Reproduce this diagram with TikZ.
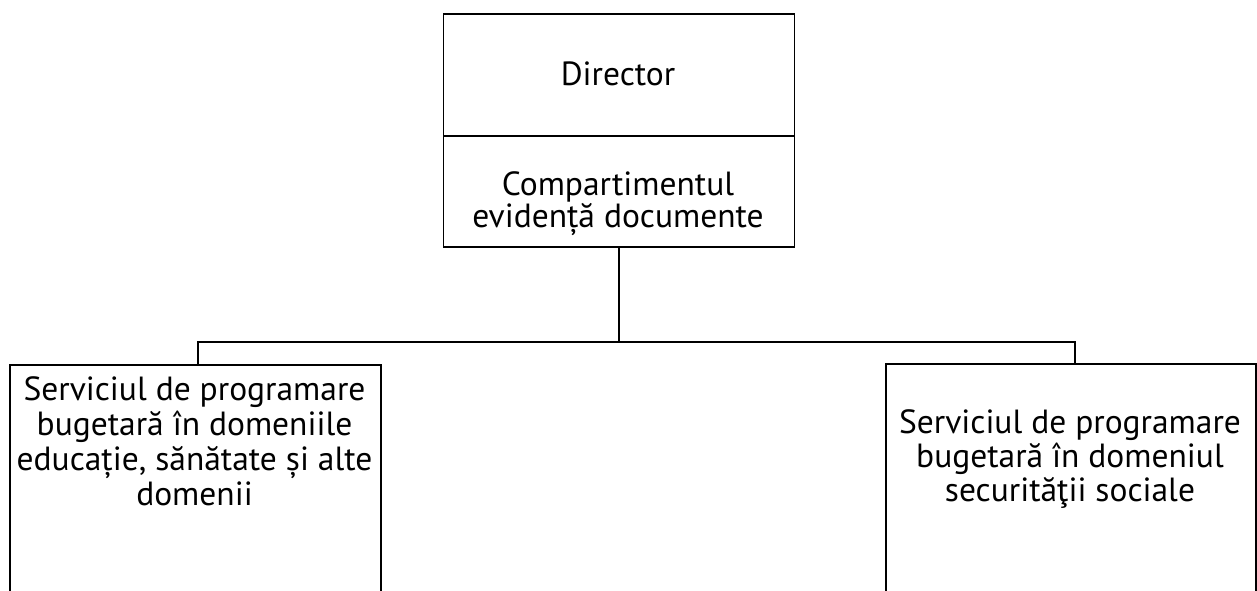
\documentclass[tikz,border=0pt]{standalone}
\usepackage{fontspec}
\setmainfont{PT Sans}
\begin{document}
\begin{tikzpicture}[x=1pt,y=-1pt,
  box/.style={draw=black,line width=1.6pt,minimum width=#1,inner sep=0pt,anchor=north west},
  lbl/.style={align=center,font=\fontsize{33.5}{35}\selectfont,inner sep=0pt},
  conn/.style={draw=black,line width=1.6pt}]
\useasboundingbox (0,0) rectangle (1257,591);
\clip (0,0) rectangle (1257,591);
\fill[white] (0,0) rectangle (1257,591);
% top boxes
\node[box=351pt,minimum height=122pt] (dir) at (442.5,13) {};
\node[box=351pt,minimum height=111pt] (comp) at (442.5,135) {};
\node[lbl] (dirt) at (618,74) {Director};
\node[lbl,font=\fontsize{33.5}{30.5}\selectfont] (compt) at (618,204) {Compartimentul\\evidență documente};
% bottom boxes
\node[box=371pt,minimum height=280pt] (lbox) at (9,364) {};
\node[box=370pt,minimum height=280pt] (rbox) at (885,363) {};
\node[lbl] (lt) at (194.5,441) {Serviciul de programare\\bugetară în domeniile\\educație, sănătate și alte\\domenii};
\node[lbl,font=\fontsize{33.5}{34}\selectfont] (rt) at (1070,459) {Serviciul de programare\\bugetară în domeniul\\securităţii sociale};
% connectors
\coordinate (j) at (comp.south |- 0,342);
\draw[conn] (comp.south) -- (j);
\draw[conn] (j) -| ([xshift=2.5pt]lbox.north);
\draw[conn] (j) -| ([xshift=4pt]rbox.north);
\end{tikzpicture}
\end{document}
